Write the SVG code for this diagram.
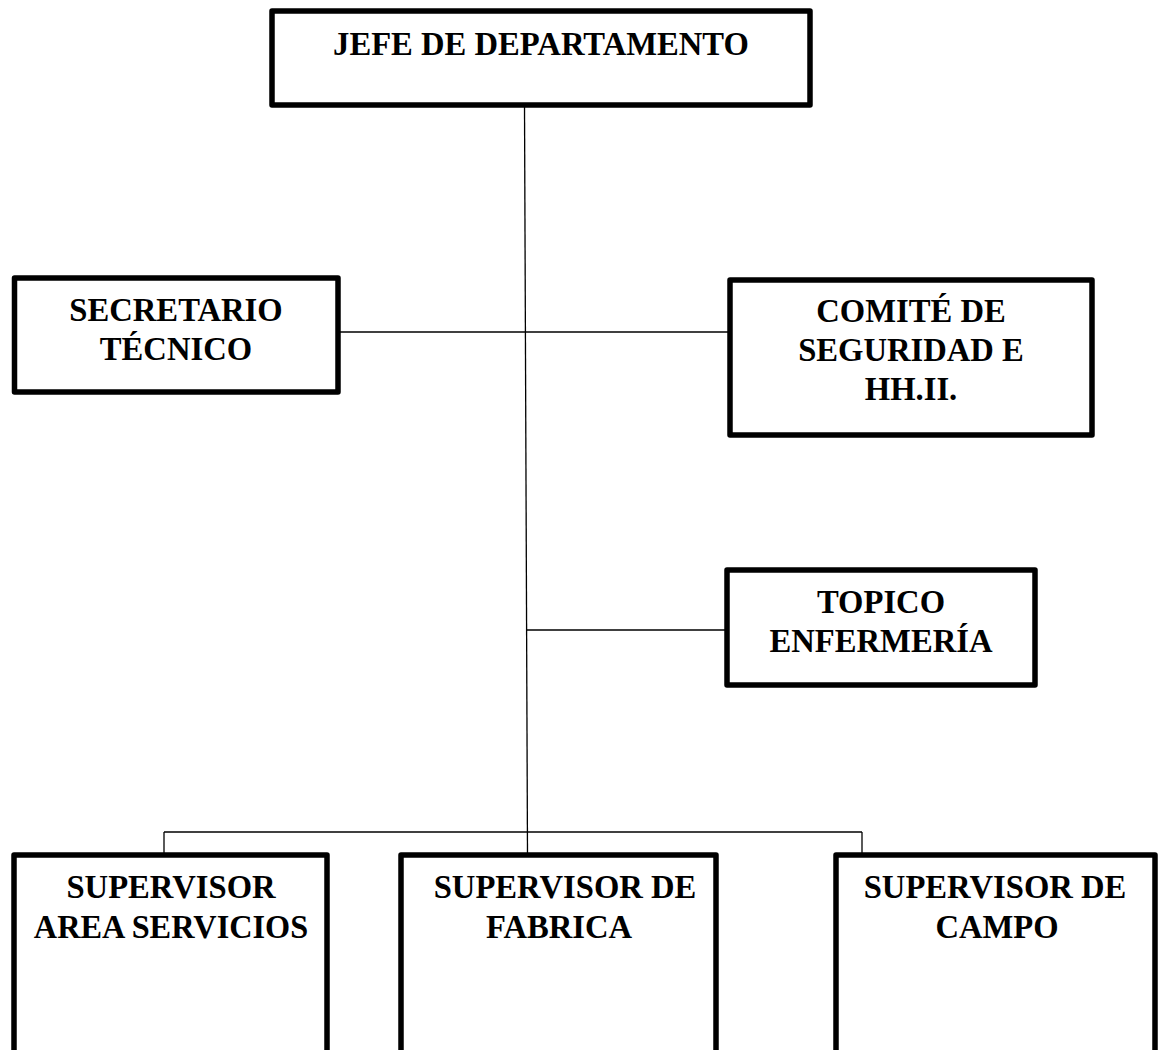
<svg xmlns="http://www.w3.org/2000/svg" width="1158" height="1050" viewBox="0 0 1158 1050">
<style>
.box{fill:#fff;stroke:#000;stroke-width:5.5;stroke-linejoin:round}
.ln{stroke:#000;stroke-width:1.3;fill:none}
.t{font-family:"Liberation Serif","Times New Roman",serif;font-weight:bold;font-size:34px;text-anchor:middle;fill:#000}
</style>
<rect width="1158" height="1050" fill="#fff"/>
<g id="connectors">
<line class="ln" x1="524.5" y1="105" x2="527.5" y2="855"/>
<line class="ln" x1="340" y1="332" x2="733" y2="332"/>
<line class="ln" x1="527" y1="630" x2="727" y2="630"/>
<line class="ln" x1="164" y1="832" x2="862" y2="832"/>
<line class="ln" x1="164" y1="832" x2="164" y2="855"/>
<line class="ln" x1="862" y1="832" x2="862" y2="855"/>
</g>
<g id="jefe">
<rect class="box" x="272" y="11" width="538" height="94"/>
<text class="t" transform="translate(541,55) scale(0.96,1)">JEFE DE DEPARTAMENTO</text>
</g>
<g id="secretario">
<rect class="box" x="14.5" y="278" width="323.5" height="114"/>
<text class="t" transform="translate(176,321) scale(0.96,1)">SECRETARIO</text>
<text class="t" transform="translate(176,360) scale(0.96,1)">TÉCNICO</text>
</g>
<g id="comite">
<rect class="box" x="730" y="280" width="362" height="155"/>
<text class="t" transform="translate(911,322) scale(0.96,1)">COMITÉ DE</text>
<text class="t" transform="translate(911,361) scale(0.96,1)">SEGURIDAD E</text>
<text class="t" transform="translate(911,400) scale(0.96,1)">HH.II.</text>
</g>
<g id="topico">
<rect class="box" x="727" y="570" width="308" height="115"/>
<text class="t" transform="translate(881,613) scale(0.96,1)">TOPICO</text>
<text class="t" transform="translate(881,652) scale(0.96,1)">ENFERMERÍA</text>
</g>
<g id="sup-servicios">
<rect class="box" x="14" y="855" width="313" height="220"/>
<text class="t" transform="translate(171,898) scale(0.96,1)">SUPERVISOR</text>
<text class="t" transform="translate(171,938) scale(0.95,1)">AREA SERVICIOS</text>
</g>
<g id="sup-fabrica">
<rect class="box" x="401" y="855" width="315" height="220"/>
<text class="t" transform="translate(565,898) scale(0.96,1)">SUPERVISOR DE</text>
<text class="t" transform="translate(559,938) scale(0.96,1)">FABRICA</text>
</g>
<g id="sup-campo">
<rect class="box" x="836" y="855" width="319" height="220"/>
<text class="t" transform="translate(995,898) scale(0.96,1)">SUPERVISOR DE</text>
<text class="t" transform="translate(997,938) scale(0.96,1)">CAMPO</text>
</g>
</svg>
